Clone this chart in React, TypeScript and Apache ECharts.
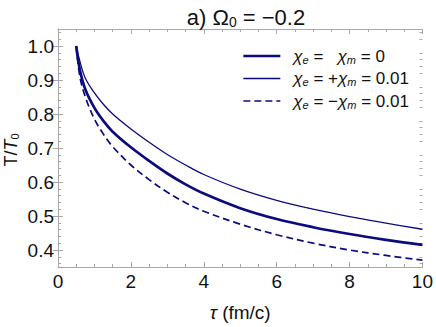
import React, { useEffect, useRef } from "react";
import * as echarts from "echarts";

const tau = [0.5, 0.6, 0.75, 1.0, 1.25, 1.5, 2.0, 2.5, 3.0, 3.5, 4.0, 5.0, 6.0, 7.0, 8.0, 9.0, 10.0];
const tZero = [1.0, 0.93, 0.872, 0.818, 0.779, 0.748, 0.702, 0.662, 0.625, 0.593, 0.566, 0.523, 0.491, 0.467, 0.447, 0.430, 0.415];
const tPlus = [1.0, 0.955, 0.905, 0.862, 0.828, 0.800, 0.756, 0.717, 0.681, 0.650, 0.622, 0.579, 0.546, 0.520, 0.498, 0.479, 0.461];
const tMinus = [1.0, 0.91, 0.85, 0.785, 0.740, 0.704, 0.650, 0.607, 0.570, 0.539, 0.514, 0.476, 0.445, 0.420, 0.400, 0.384, 0.370];

const yMajorTicks = [0.4, 0.5, 0.6, 0.7, 0.8, 0.9, 1.0];
const yMinorTicks = [0.36, 0.38, 0.42, 0.44, 0.46, 0.48, 0.52, 0.54, 0.56, 0.58, 0.62, 0.64, 0.66, 0.68, 0.72, 0.74, 0.76, 0.78, 0.82, 0.84, 0.86, 0.88, 0.92, 0.94, 0.96, 0.98, 1.02, 1.04];

const seriesNames = ["zero", "plus", "minus"];
const legendLabels: Record<string, string> = {
  zero: "{i|χ}{s|e} =   {i|χ}{s|m} = 0",
  plus: "{i|χ}{s|e} = +{i|χ}{s|m} = 0.01",
  minus: "{i|χ}{s|e} = −{i|χ}{s|m} = 0.01",
};

const FONT = "Liberation Sans, Arial, sans-serif";
const NAVY = "#0b0b7e";
const FRAME = "#a8a8a8";
const INK = "#111";

const pairs = (ys: number[]) => tau.map((t, i) => [t, ys[i]]);

export default function App() {
  const ref = useRef<HTMLDivElement>(null);
  useEffect(() => {
    if (!ref.current) return;
    const chart = echarts.init(ref.current, undefined, { renderer: "svg" });
    const richSub = {
      i: { fontStyle: "italic", fontSize: 17, fontFamily: FONT, color: INK },
      s: { fontStyle: "italic", fontSize: 11, fontFamily: FONT, color: INK, padding: [7, 0, 0, 0] },
    };
    const yAxisBase = {
      type: "value",
      min: 0.35,
      max: 1.05,
      splitLine: { show: false },
      axisLine: { show: true, lineStyle: { color: FRAME, width: 1 } },
    };
    const xAxisBase = {
      type: "value",
      min: 0,
      max: 10,
      interval: 2,
      splitLine: { show: false },
      axisLine: { show: true, onZero: false, lineStyle: { color: FRAME, width: 1 } },
      axisTick: { show: true, inside: true, length: 5, lineStyle: { color: FRAME } },
      minorTick: { show: true, splitNumber: 4, length: 3, lineStyle: { color: FRAME } },
    };
    const lineBase = {
      type: "line",
      symbol: "none",
      smooth: 0.35,
      itemStyle: { color: NAVY },
    };
    chart.setOption({
      animation: false,
      backgroundColor: "#ffffff",
      title: {
        text: "a) Ω{s|0} = −0.2",
        left: 241,
        top: 0,
        textAlign: "center",
        textStyle: {
          fontFamily: FONT,
          fontSize: 22,
          fontWeight: "normal",
          color: INK,
          rich: {
            s: { fontSize: 14, fontFamily: FONT, color: INK, padding: [10, 0, 0, 0] },
          },
        },
      },
      grid: { left: 58, right: 11, top: 29, bottom: 56 },
      legend: {
        orient: "vertical",
        left: 237,
        top: 40,
        itemWidth: 37,
        itemHeight: 14,
        itemGap: 0.5,
        data: seriesNames,
        formatter: (name: string) => legendLabels[name],
        itemStyle: { opacity: 0 },
        lineStyle: { width: "inherit" },
        textStyle: {
          fontFamily: FONT,
          fontSize: 17,
          color: INK,
          lineHeight: 22,
          padding: [0, 0, 0, 8],
          rich: richSub,
        },
      },
      graphic: [
        {
          type: "text",
          x: 11,
          y: 150,
          rotation: Math.PI / 2,
          style: {
            text: "T/{i|T}{s|0}",
            fontFamily: FONT,
            fontSize: 18,
            fill: INK,
            align: "center",
            verticalAlign: "middle",
            rich: {
              i: { fontStyle: "italic", fontSize: 18, fontFamily: FONT, fill: INK },
              s: { fontSize: 11, fontFamily: FONT, fill: INK, padding: [8, 0, 0, 0] },
            },
          },
        },
      ],
      xAxis: [
        {
          ...xAxisBase,
          position: "bottom",
          name: "{i|τ} (fm/c)",
          nameLocation: "middle",
          nameGap: 36,
          nameTextStyle: {
            fontFamily: FONT,
            fontSize: 19,
            color: INK,
            rich: { i: { fontStyle: "italic", fontSize: 19, fontFamily: FONT, color: INK } },
          },
          axisLabel: { show: true, margin: 5, fontFamily: FONT, fontSize: 19, color: INK },
        },
        {
          ...xAxisBase,
          position: "top",
          axisLabel: { show: false },
        },
      ],
      yAxis: [
        {
          ...yAxisBase,
          position: "left",
          axisTick: { show: true, inside: true, length: 5, customValues: yMajorTicks, lineStyle: { color: FRAME } },
          axisLabel: {
            show: true,
            margin: 4,
            customValues: yMajorTicks,
            fontFamily: FONT,
            fontSize: 19,
            color: INK,
            formatter: (v: number) => v.toFixed(1),
          },
        },
        {
          ...yAxisBase,
          position: "right",
          axisTick: { show: true, inside: true, length: 5, customValues: yMajorTicks, lineStyle: { color: FRAME } },
          axisLabel: { show: false, customValues: yMajorTicks },
        },
        {
          ...yAxisBase,
          position: "left",
          axisLine: { show: false },
          axisTick: { show: true, inside: true, length: 3, customValues: yMinorTicks, lineStyle: { color: FRAME } },
          axisLabel: { show: false, customValues: yMinorTicks },
        },
        {
          ...yAxisBase,
          position: "right",
          axisLine: { show: false },
          axisTick: { show: true, inside: true, length: 3, customValues: yMinorTicks, lineStyle: { color: FRAME } },
          axisLabel: { show: false, customValues: yMinorTicks },
        },
      ],
      series: [
        { ...lineBase, name: "zero", data: pairs(tZero), lineStyle: { color: NAVY, width: 2.7 } },
        { ...lineBase, name: "plus", data: pairs(tPlus), lineStyle: { color: NAVY, width: 1.3 } },
        { ...lineBase, name: "minus", data: pairs(tMinus), lineStyle: { color: NAVY, width: 1.7, type: [7, 4] } },
      ],
    });
    return () => chart.dispose();
  }, []);
  return <div ref={ref} style={{ width: 436, height: 327, position: "absolute", left: 0, top: 0 }} />;
}
